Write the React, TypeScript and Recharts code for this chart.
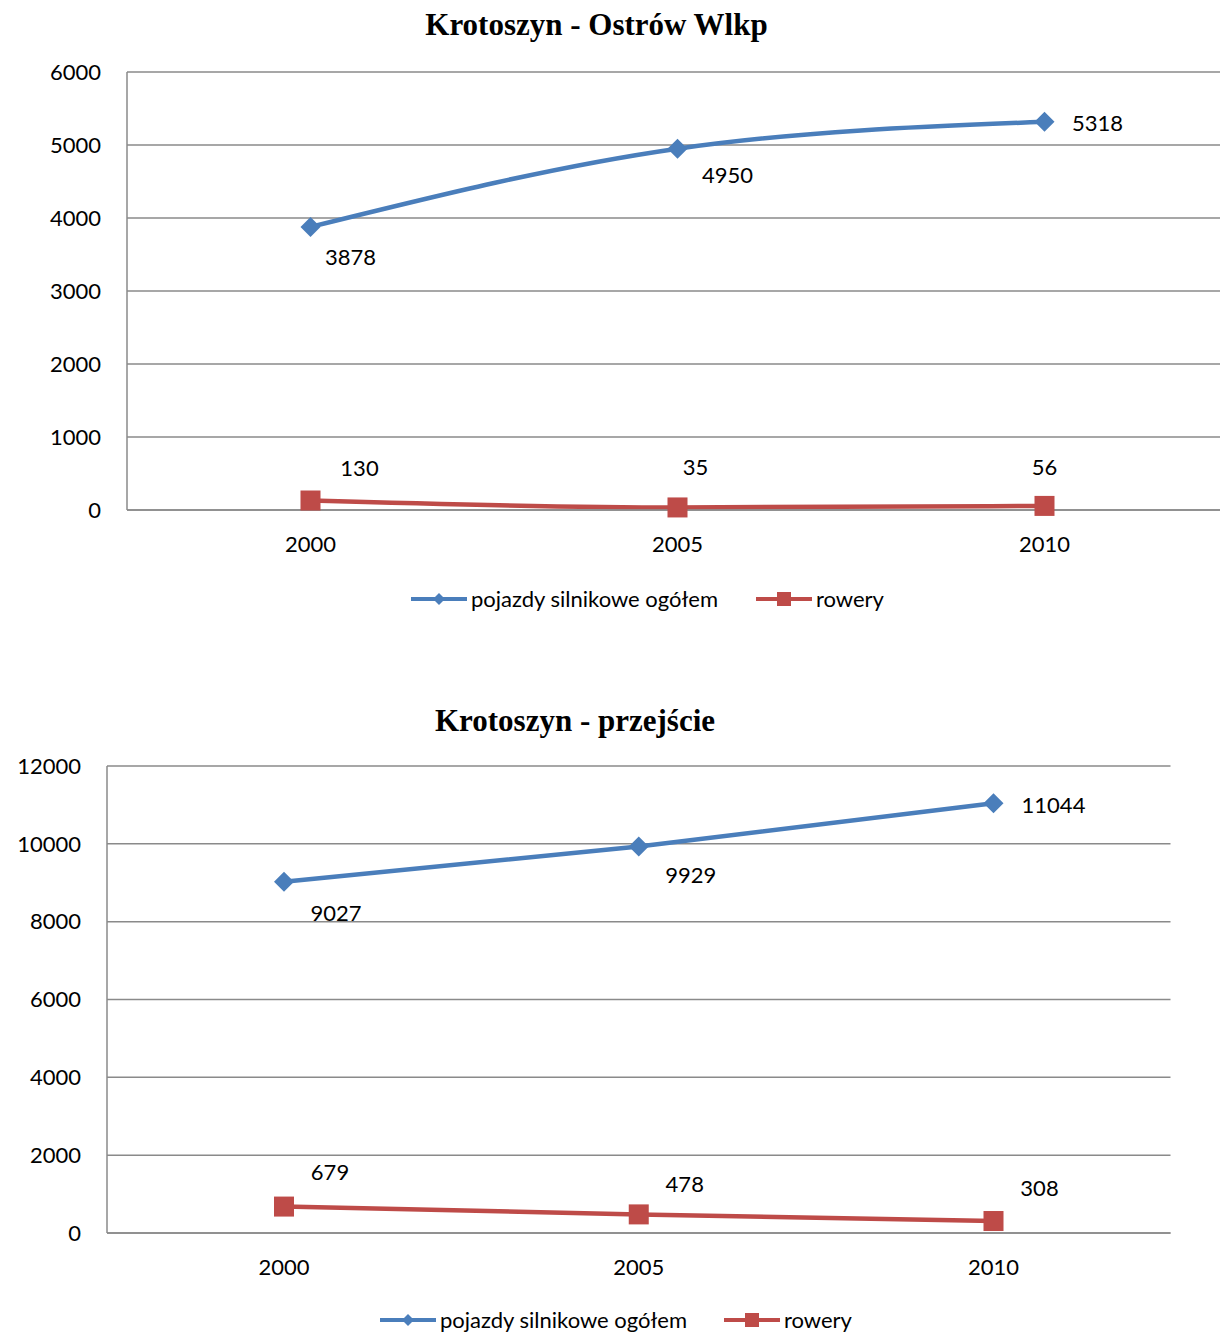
import React from 'react';
import { LineChart, Line, XAxis, YAxis, CartesianGrid, Legend } from 'recharts';

const years = ['2000', '2005', '2010'];
const motorOstrow = [3878, 4950, 5318];
const bikesOstrow = [130, 35, 56];
const motorPrzejscie = [9027, 9929, 11044];
const bikesPrzejscie = [679, 478, 308];
const ticksOstrow = [0, 1000, 2000, 3000, 4000, 5000, 6000];
const ticksPrzejscie = [0, 2000, 4000, 6000, 8000, 10000, 12000];
const seriesNames = ['pojazdy silnikowe ogółem', 'rowery'];

const dataOstrow = years.map((y, i) => ({ year: y, motor: motorOstrow[i], bikes: bikesOstrow[i] }));
const dataPrzejscie = years.map((y, i) => ({ year: y, motor: motorPrzejscie[i], bikes: bikesPrzejscie[i] }));

const BLUE = '#4a7ebb';
const RED = '#be4b48';
const GRID = '#8a8a8a';
const FONT = 'Lato, "Open Sans", sans-serif';
const FS = 22;

// label offsets (style only)
const offMotorA = [[40, 30], [50, 26], [53, 1]];
const offBikesA = [[49, -33], [18, -41], [0, -39]];
const offMotorB = [[52, 31], [52, 28], [60, 1]];
const offBikesB = [[46, -35], [46, -31], [46, -34]];

const makeLabel = (offs: number[][]) => (props: any) => {
  const { x, y, index, value } = props;
  const o = offs[index] || [0, 0];
  return (
    <text key={'l' + index} x={x + o[0]} y={y + o[1]} textAnchor="middle" dominantBaseline="central"
      fontFamily={FONT} fontSize={FS} fill="#000">{value}</text>
  );
};

const diamondDot = (props: any) => {
  const { cx, cy, index } = props;
  const r = 10;
  return <path key={'d' + index} d={`M${cx},${cy - r}L${cx + r},${cy}L${cx},${cy + r}L${cx - r},${cy}Z`} fill={BLUE} />;
};
const squareDot = (props: any) => {
  const { cx, cy, index } = props;
  const h = 10;
  return <rect key={'s' + index} x={cx - h} y={cy - h} width={2 * h} height={2 * h} fill={RED} />;
};

const makeLegend = (pos: number[]) => () => (
  <div style={{ position: 'relative', height: 26, fontFamily: FONT, fontSize: FS, color: '#000' }}>
    <svg style={{ position: 'absolute', left: pos[0], top: 3 }} width={56} height={20}>
      <line x1={0} y1={10} x2={56} y2={10} stroke={BLUE} strokeWidth={4} strokeLinecap="round" />
      <path d="M28,4L34,10L28,16L22,10Z" fill={BLUE} />
    </svg>
    <span style={{ position: 'absolute', left: pos[0] + 60, top: 0, lineHeight: '26px', whiteSpace: 'nowrap' }}>{seriesNames[0]}</span>
    <svg style={{ position: 'absolute', left: pos[1], top: 3 }} width={56} height={20}>
      <line x1={0} y1={10} x2={56} y2={10} stroke={RED} strokeWidth={4} strokeLinecap="round" />
      <rect x={21} y={3} width={14} height={14} fill={RED} />
    </svg>
    <span style={{ position: 'absolute', left: pos[1] + 60, top: 0, lineHeight: '26px', whiteSpace: 'nowrap' }}>{seriesNames[1]}</span>
  </div>
);

const titleStyle = (center: number, top: number): React.CSSProperties => ({
  position: 'absolute', left: center - 300, width: 600, top, textAlign: 'center',
  fontFamily: '"Liberation Serif", "DejaVu Serif", serif', fontWeight: 'bold', fontSize: 31, lineHeight: '36px', color: '#000',
});

const tickStyle = { fontFamily: FONT, fontSize: FS, fill: '#000' };

export default function App() {
  return (
    <div style={{ position: 'absolute', left: 0, top: 0, width: 1220, height: 1333, overflow: 'hidden', background: '#fff' }}>
      <div style={{ position: 'absolute', left: 0, top: 0 }}>
        <LineChart width={1240} height={640} data={dataOstrow} margin={{ top: 72, right: 12, bottom: 28, left: 0 }}>
          <CartesianGrid vertical={false} stroke={GRID} strokeWidth={1.5} />
          <XAxis dataKey="year" padding={{ left: 183.5, right: 183.5 }} tickLine={false} tickSize={0} tickMargin={26}
            axisLine={{ stroke: GRID, strokeWidth: 1.5 }} tick={tickStyle} height={76} />
          <YAxis domain={[0, 6000]} ticks={ticksOstrow} width={127} tickLine={false} tickSize={0} tickMargin={26}
            axisLine={{ stroke: GRID, strokeWidth: 1.5 }} tick={tickStyle} interval={0} />
          <Legend verticalAlign="bottom" height={26} content={makeLegend([411, 756])} />
          <Line type="monotone" dataKey="motor" name={seriesNames[0]} stroke={BLUE} strokeWidth={4.5}
            dot={diamondDot} activeDot={false} label={makeLabel(offMotorA)} isAnimationActive={false} />
          <Line type="monotone" dataKey="bikes" name={seriesNames[1]} stroke={RED} strokeWidth={4.5}
            dot={squareDot} activeDot={false} label={makeLabel(offBikesA)} isAnimationActive={false} />
        </LineChart>
      </div>
      <div style={titleStyle(596.5, 7)}>Krotoszyn - Ostrów Wlkp</div>

      <div style={{ position: 'absolute', left: 0, top: 700 }}>
        <LineChart width={1220} height={633} data={dataPrzejscie} margin={{ top: 66, right: 49.5, bottom: 0, left: 0 }}>
          <CartesianGrid vertical={false} stroke={GRID} strokeWidth={1.5} />
          <XAxis dataKey="year" padding={{ left: 177, right: 177 }} tickLine={false} tickSize={0} tickMargin={26}
            axisLine={{ stroke: GRID, strokeWidth: 1.5 }} tick={tickStyle} height={74} />
          <YAxis domain={[0, 12000]} ticks={ticksPrzejscie} width={107} tickLine={false} tickSize={0} tickMargin={26}
            axisLine={{ stroke: GRID, strokeWidth: 1.5 }} tick={tickStyle} interval={0} />
          <Legend verticalAlign="bottom" height={26} content={makeLegend([380, 724])} />
          <Line type="linear" dataKey="motor" name={seriesNames[0]} stroke={BLUE} strokeWidth={4.5}
            dot={diamondDot} activeDot={false} label={makeLabel(offMotorB)} isAnimationActive={false} />
          <Line type="linear" dataKey="bikes" name={seriesNames[1]} stroke={RED} strokeWidth={4.5}
            dot={squareDot} activeDot={false} label={makeLabel(offBikesB)} isAnimationActive={false} />
        </LineChart>
      </div>
      <div style={titleStyle(575, 703)}>Krotoszyn - przejście</div>
    </div>
  );
}
